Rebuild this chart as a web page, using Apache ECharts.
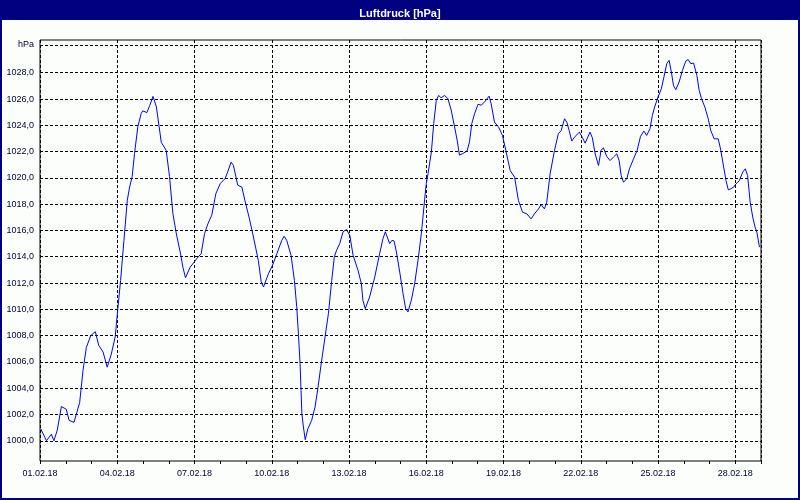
<!DOCTYPE html>
<html>
<head>
<meta charset="utf-8">
<script src="https://cdn.jsdelivr.net/npm/echarts@6/dist/echarts.min.js"></script>
<style>
html,body{margin:0;padding:0;background:#fff;}
#chart{width:800px;height:500px;}
</style>
</head>
<body>
<div id="chart"></div>
<script>
// Time in days since 01.02.18 00:00
var days = [0.03,0.25,0.44,0.54,0.67,0.83,1.02,1.13,1.32,1.54,1.67,1.80,1.97,2.15,2.28,2.45,2.61,2.77,2.92,3.03,3.13,3.26,3.39,3.48,3.58,3.67,3.80,3.93,3.99,4.15,4.26,4.39,4.52,4.71,4.90,5.03,5.16,5.29,5.46,5.55,5.65,5.83,6.09,6.26,6.39,6.52,6.67,6.83,7.00,7.19,7.29,7.42,7.51,7.68,7.84,7.97,8.12,8.29,8.48,8.59,8.68,8.87,9.03,9.20,9.39,9.48,9.58,9.75,9.88,9.97,10.04,10.10,10.17,10.23,10.30,10.40,10.55,10.68,10.79,10.92,11.07,11.20,11.33,11.43,11.52,11.64,11.77,11.90,12.03,12.16,12.35,12.48,12.54,12.63,12.80,13.00,13.19,13.32,13.41,13.58,13.67,13.75,13.84,13.97,14.10,14.20,14.29,14.42,14.55,14.68,14.81,14.91,15.00,15.07,15.20,15.29,15.39,15.48,15.58,15.71,15.84,15.97,16.10,16.20,16.29,16.42,16.59,16.68,16.77,16.88,17.01,17.14,17.27,17.44,17.52,17.65,17.81,17.96,18.09,18.26,18.43,18.58,18.74,18.91,19.07,19.20,19.36,19.46,19.59,19.68,19.81,19.98,20.13,20.24,20.37,20.46,20.55,20.65,20.78,20.95,21.07,21.17,21.36,21.45,21.56,21.69,21.79,21.88,22.01,22.14,22.27,22.40,22.49,22.57,22.66,22.79,22.89,23.05,23.19,23.32,23.45,23.56,23.69,23.78,23.87,24.00,24.13,24.23,24.34,24.43,24.52,24.60,24.69,24.82,24.95,25.08,25.17,25.27,25.38,25.43,25.51,25.60,25.69,25.82,25.95,26.05,26.18,26.34,26.44,26.55,26.64,26.73,26.83,26.94,27.03,27.16,27.29,27.39,27.48,27.58,27.68,27.77,27.84,27.94];
var pressure = [1000.9,1000.0,1000.5,1000.0,1000.8,1002.6,1002.4,1001.55,1001.4,1002.9,1005.35,1007.1,1008.0,1008.3,1007.26,1006.75,1005.6,1006.6,1007.9,1010.2,1012.2,1015.25,1018.3,1019.3,1020.1,1021.85,1023.9,1024.9,1025.1,1024.97,1025.5,1026.2,1025.4,1022.7,1022.1,1020.1,1017.3,1015.8,1014.2,1013.2,1012.4,1013.2,1013.86,1014.24,1015.76,1016.5,1017.16,1018.8,1019.57,1019.95,1020.46,1021.2,1020.96,1019.44,1019.3,1018.17,1017.0,1015.5,1013.7,1012.1,1011.7,1012.7,1013.35,1014.24,1015.25,1015.56,1015.25,1014.1,1012.2,1010.2,1008.0,1005.86,1002.06,1001.04,1000.08,1000.9,1001.55,1002.56,1003.96,1005.86,1007.9,1009.67,1012.2,1014.0,1014.5,1015.0,1015.9,1016.07,1015.63,1014.1,1012.97,1011.95,1010.69,1010.05,1010.94,1012.46,1014.24,1015.38,1015.9,1015.0,1015.25,1015.2,1014.37,1012.84,1011.19,1010.05,1009.8,1010.69,1011.95,1013.73,1015.76,1017.8,1019.57,1020.33,1021.98,1024.14,1025.9,1026.27,1026.1,1026.27,1026.04,1025.15,1023.88,1022.87,1021.73,1021.85,1022.06,1022.74,1024.14,1024.9,1025.6,1025.53,1025.8,1026.22,1025.64,1024.24,1023.86,1023.23,1022.09,1020.56,1020.06,1018.28,1017.39,1017.26,1016.88,1017.26,1017.64,1017.97,1017.64,1018.15,1020.31,1022.09,1023.36,1023.6,1024.5,1024.24,1023.6,1022.8,1023.15,1023.48,1023.05,1022.64,1023.48,1023.05,1021.83,1020.94,1022.09,1022.29,1021.63,1021.32,1021.58,1021.83,1021.32,1020.18,1019.68,1019.93,1020.69,1021.45,1022.09,1023.15,1023.56,1023.23,1023.74,1024.75,1025.39,1026.15,1026.78,1027.67,1028.69,1028.94,1028.05,1027.04,1026.71,1027.29,1028.18,1028.89,1029.0,1028.69,1028.74,1028.89,1027.8,1026.65,1026.02,1025.39,1024.5,1023.6,1022.97,1022.97,1022.09,1020.82,1019.8,1019.09,1019.17,1019.3,1019.55,1019.8,1020.44,1020.69,1020.18,1018.15,1017.01,1016.25,1015.87,1014.73];
var xTickLabels = ['01.02.18','04.02.18','07.02.18','10.02.18','13.02.18','16.02.18','19.02.18','22.02.18','25.02.18','28.02.18'];
var yTickValues = [1000,1002,1004,1006,1008,1010,1012,1014,1016,1018,1020,1022,1024,1026,1028,1030.12];
var yTickLabels = ['1000,0','1002,0','1004,0','1006,0','1008,0','1010,0','1012,0','1014,0','1016,0','1018,0','1020,0','1022,0','1024,0','1026,0','1028,0','hPa'];
var titleText = 'Luftdruck [hPa]';

var seriesData = days.map(function (d, i) { return [d, pressure[i]]; });
var labelColor = '#000033';
var fontFam = '"Liberation Sans", Arial, sans-serif';

var chart = echarts.init(document.getElementById('chart'), null, {renderer: 'canvas'});
chart.setOption({
  animation: false,
  backgroundColor: '#fcfefc',
  title: {
    text: titleText, left: 'center', top: 3,
    textStyle: {color: '#ffffff', fontSize: 11, fontWeight: 'bold', fontFamily: fontFam}
  },
  graphic: [
    {type: 'rect', z: -10, shape: {x: 0, y: 0, width: 800, height: 20}, style: {fill: '#000080'}},
    {type: 'rect', z: 100, shape: {x: 1, y: 1, width: 798, height: 498}, style: {fill: null, stroke: '#000080', lineWidth: 2}}
  ],
  grid: {left: 40, right: 39, top: 40, bottom: 39, show: true, borderColor: '#000000', borderWidth: 1, backgroundColor: 'transparent'},
  xAxis: [{
    type: 'value', min: 0, max: 28, interval: 3,
    axisLine: {show: false},
    axisTick: {show: false},
    axisLabel: {
      margin: 8, color: labelColor, fontSize: 9, fontFamily: fontFam,
      formatter: function (v) { var i = Math.round(v / 3); return (v < 28 && Math.abs(v - i * 3) < 1e-6) ? xTickLabels[i] : ''; }
    },
    splitLine: {show: true, lineStyle: {color: '#000000', type: [3, 2], width: 1}}
  }, {
    type: 'value', min: 0, max: 28, interval: 1, position: 'bottom',
    axisLine: {show: false},
    axisTick: {show: true, length: 3, lineStyle: {color: '#000000'}},
    axisLabel: {show: false},
    splitLine: {show: false}
  }],
  yAxis: {
    type: 'value', min: 998.46, max: 1030.49,
    axisLine: {show: false},
    axisTick: {show: false, customValues: yTickValues},
    axisLabel: {
      customValues: yTickValues, margin: 6, color: labelColor, fontSize: 9, fontFamily: fontFam,
      formatter: function (v) { var i = yTickValues.indexOf(v); return i >= 0 ? yTickLabels[i] : ''; }
    },
    splitLine: {show: true, lineStyle: {color: '#000000', type: [3, 2], width: 1}}
  },
  series: [{
    type: 'line', xAxisIndex: 0, data: seriesData, showSymbol: false, symbol: 'none',
    smooth: false, lineStyle: {color: '#0000ff', width: 1}, z: 5
  }]
});
</script>
</body>
</html>
